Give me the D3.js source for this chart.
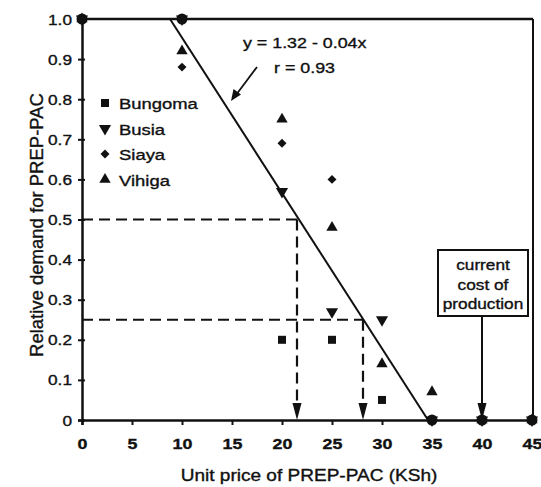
<!DOCTYPE html>
<html><head><meta charset="utf-8">
<script src="https://cdn.jsdelivr.net/npm/d3@7"></script>
<style>body{margin:0;background:#fff}svg{display:block}text{font-family:Arial,"Liberation Sans",Helvetica,sans-serif;fill:#111;stroke:#111;stroke-width:0.35px}</style>
</head><body>
<svg id="c" width="541" height="487"></svg>
<script>
// ---- data ----
const prices = [0, 10, 20, 25, 30, 35, 40, 45];
const bungoma = [1.0, 1.0, 0.20, 0.20, 0.05, 0, 0, 0];
const busia   = [1.0, 1.0, 0.57, 0.27, 0.25, 0, 0, 0];
const siaya   = [1.0, 0.88, 0.69, 0.60, null, 0, 0, 0];
const vihiga  = [1.0, 0.92, 0.75, 0.48, 0.14, 0.07, 0, 0];
const seriesNames = ["Bungoma", "Busia", "Siaya", "Vihiga"];
const xTicks = [0, 5, 10, 15, 20, 25, 30, 35, 40, 45];
const yTicks = [0, 0.1, 0.2, 0.3, 0.4, 0.5, 0.6, 0.7, 0.8, 0.9, 1.0];
const yTickLabels = ["0", "0.1", "0.2", "0.3", "0.4", "0.5", "0.6", "0.7", "0.8", "0.9", "1.0"];
const fitX = [8.8, 34.6];      // fitted demand line end points (as drawn)
const fitY = [1.0, 0.0];
const demandLevels = [0.5, 0.25];
const demandPrices = [21.5, 28.1];
const costPrice = 40;
const eqText = "y = 1.32 - 0.04x";
const rText = "r = 0.93";
const xTitle = "Unit price of PREP-PAC (KSh)";
const yTitle = "Relative demand for PREP-PAC";
const costLines = ["current", "cost of", "production"];

const SX = 1.19; // horizontal glyph stretch seen in the reference
const svg = d3.select("#c");
svg.append("rect").attr("width", 541).attr("height", 487).attr("fill", "#fff");
const x = d3.scaleLinear().domain([0, 45]).range([82, 532]);
const y = d3.scaleLinear().domain([0, 1]).range([420, 19]);
const ink = "#111";

function txt(px, py, s, size, anchor, weight) {
  return svg.append("text").attr("transform", `translate(${px},${py}) scale(${SX},1)`)
    .attr("text-anchor", anchor || "start").attr("font-size", size)
    .style("font-weight", weight || "normal").text(s);
}

// axes
const xAxis = d3.axisBottom(x).tickValues(xTicks).tickSize(5).tickFormat(d3.format("d"));
const gx = svg.append("g").attr("transform", `translate(0,${y(0)})`).call(xAxis);
gx.select(".domain").attr("stroke", ink).attr("stroke-width", 2.5);
gx.selectAll(".tick line").attr("stroke", ink).attr("stroke-width", 2);
gx.selectAll(".tick text").attr("font-size", 15).attr("fill", ink).style("font-weight", "bold")
  .attr("y", 0).attr("dy", null).attr("transform", `translate(0,29) scale(${SX},1)`);

const yAxis = d3.axisLeft(y).tickValues(yTicks).tickSize(4)
  .tickFormat((d, i) => yTickLabels[i]);
const gy = svg.append("g").attr("transform", `translate(${x(0)},0)`).call(yAxis);
gy.select(".domain").attr("stroke", ink).attr("stroke-width", 2.5);
gy.selectAll(".tick line").attr("stroke", ink).attr("stroke-width", 2).attr("x2", 3).attr("x1", -4);
gy.selectAll(".tick text").attr("font-size", 14.5).attr("fill", ink)
  .attr("x", 0).attr("dy", null).attr("transform", `translate(-10,5) scale(${SX},1)`);

// frame top and right
svg.append("line").attr("x1", x(0)).attr("x2", x(45) + 1).attr("y1", y(1)).attr("y2", y(1))
  .attr("stroke", ink).attr("stroke-width", 2.5);
svg.append("line").attr("x1", x(45) + 1).attr("x2", x(45) + 1).attr("y1", y(1)).attr("y2", y(0))
  .attr("stroke", ink).attr("stroke-width", 2);

// fitted line
svg.append("line").attr("x1", x(fitX[0])).attr("y1", y(fitY[0])).attr("x2", x(fitX[1])).attr("y2", y(fitY[1]))
  .attr("stroke", ink).attr("stroke-width", 2);

// dashed guides with arrows
function downArrow(px) {
  svg.append("path").attr("d", `M${px - 4.5},${y(0) - 17} L${px + 4.5},${y(0) - 17} L${px},${y(0)} Z`).attr("fill", ink);
}
demandLevels.forEach((lv, i) => {
  const px = demandPrices[i];
  svg.append("line").attr("x1", x(0)).attr("x2", x(px)).attr("y1", y(lv)).attr("y2", y(lv))
    .attr("stroke", ink).attr("stroke-width", 2.2).attr("stroke-dasharray", "11,6");
  svg.append("line").attr("x1", x(px)).attr("x2", x(px)).attr("y1", y(lv)).attr("y2", y(0) - 14)
    .attr("stroke", ink).attr("stroke-width", 2.2).attr("stroke-dasharray", "11,6");
  downArrow(x(px));
});

// cost of production box + arrow
const bx0 = 438, bx1 = 528, by0 = 250, by1 = 316;
svg.append("rect").attr("x", bx0).attr("y", by0).attr("width", bx1 - bx0).attr("height", by1 - by0)
  .attr("fill", "#fff").attr("stroke", ink).attr("stroke-width", 2);
costLines.forEach((t, i) => txt((bx0 + bx1) / 2, by0 + 20 + i * 19.5, t, 14.5, "middle"));
svg.append("line").attr("x1", x(costPrice)).attr("x2", x(costPrice)).attr("y1", by1).attr("y2", y(0) - 14)
  .attr("stroke", ink).attr("stroke-width", 2);
downArrow(x(costPrice));

// equation annotation
txt(243, 48, eqText, 15);
txt(274, 73, rText, 15);
svg.append("line").attr("x1", 257).attr("y1", 67).attr("x2", 236).attr("y2", 95)
  .attr("stroke", ink).attr("stroke-width", 1.8);
svg.append("path").attr("d", "M231,101 L233.5,89 L241,94.5 Z").attr("fill", ink);

// markers
const symbols = [d3.symbolSquare, d3.symbolTriangle, d3.symbolSquare, d3.symbolTriangle];
const sizes = [64, 64, 40, 56];
const rot = [0, 180, 45, 0];
const allSeries = [bungoma, busia, siaya, vihiga];
allSeries.forEach((vals, s) => {
  const pts = prices.map((p, i) => ({ p: p, v: vals[i] })).filter(d => d.v !== null);
  svg.append("g").selectAll("path").data(pts).join("path")
    .attr("d", d3.symbol().type(symbols[s]).size(sizes[s]))
    .attr("transform", d => `translate(${x(d.p)},${y(d.v)}) rotate(${rot[s]})`)
    .attr("fill", ink);
});
// heavier dots where Bungoma and Busia coincide
const pts0 = prices.map((p, i) => ({ p: p, v: bungoma[i], same: bungoma[i] === busia[i] })).filter(d => d.same);
svg.append("g").selectAll("circle").data(pts0).join("circle")
  .attr("cx", d => x(d.p)).attr("cy", d => y(d.v)).attr("r", 5.5).attr("fill", ink);

// legend
seriesNames.forEach((n, s) => {
  const ly = 103 + s * 25.5;
  svg.append("path").attr("d", d3.symbol().type(symbols[s]).size(sizes[s])())
    .attr("transform", `translate(105,${ly}) rotate(${rot[s]})`).attr("fill", ink);
  txt(119, ly + 6, n, 15.5);
});

// axis titles
txt(309, 481, xTitle, 16, "middle");
svg.append("text").attr("transform", `translate(43,225) rotate(-90)`).attr("text-anchor", "middle")
  .attr("font-size", 18.5).text(yTitle);
</script>
</body></html>
